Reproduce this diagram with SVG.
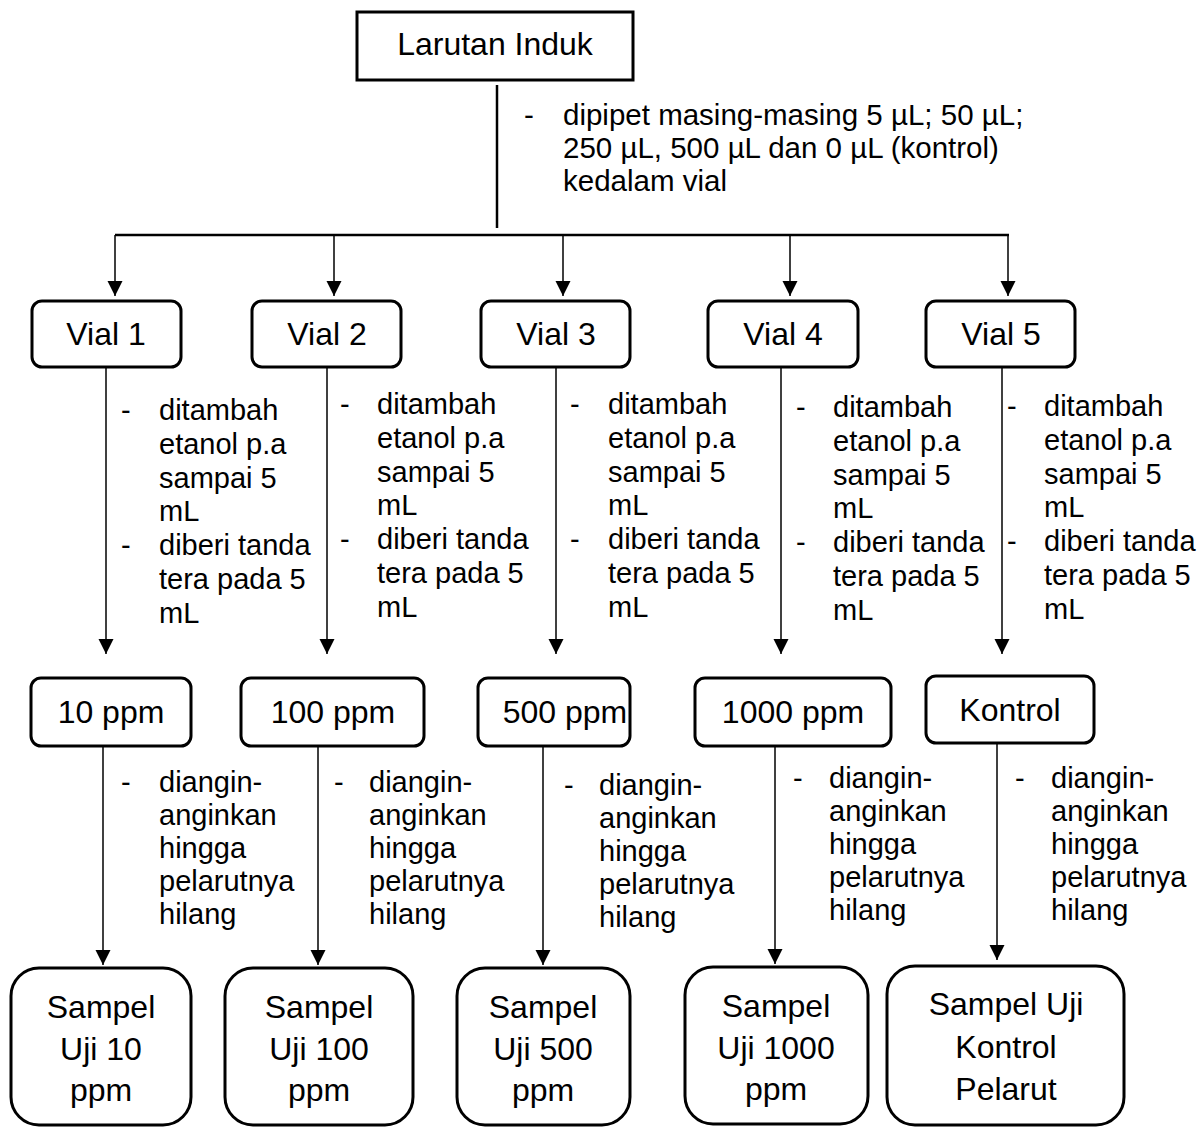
<svg xmlns="http://www.w3.org/2000/svg" width="1201" height="1129" viewBox="0 0 1201 1129">
<style>
.box{fill:#fff;stroke:#000;stroke-width:3}
.lbl{font-family:"Liberation Sans",Arial,sans-serif;font-size:32px;fill:#000;text-anchor:middle}
.ann{font-family:"Liberation Sans",Arial,sans-serif;font-size:29px;fill:#000}
.top{font-size:29.5px}
.con{fill:none;stroke:#000;stroke-width:1.5}
.main{fill:none;stroke:#000;stroke-width:2.5}
</style>
<defs>
<marker id="arr" markerUnits="userSpaceOnUse" markerWidth="16" markerHeight="16" refX="15" refY="7.5" orient="auto">
<path d="M0,0 L15,7.5 L0,15 z" fill="#000"/>
</marker>
</defs>
<rect width="1201" height="1129" fill="#fff"/>

<g id="connectors">
<path class="main" d="M497,85 V228"/>
<path class="main" d="M115,235 H1009"/>
<path class="con" d="M115,235 V296" marker-end="url(#arr)"/>
<path class="con" d="M334,235 V296" marker-end="url(#arr)"/>
<path class="con" d="M563,235 V296" marker-end="url(#arr)"/>
<path class="con" d="M790,235 V296" marker-end="url(#arr)"/>
<path class="con" d="M1008,235 V296" marker-end="url(#arr)"/>
<path class="con" d="M106,368 V654" marker-end="url(#arr)"/>
<path class="con" d="M327,368 V654" marker-end="url(#arr)"/>
<path class="con" d="M556,368 V654" marker-end="url(#arr)"/>
<path class="con" d="M781,368 V654" marker-end="url(#arr)"/>
<path class="con" d="M1002,368 V654" marker-end="url(#arr)"/>
<path class="con" d="M103,747 V965" marker-end="url(#arr)"/>
<path class="con" d="M318,747 V965" marker-end="url(#arr)"/>
<path class="con" d="M543,747 V965" marker-end="url(#arr)"/>
<path class="con" d="M775,747 V964" marker-end="url(#arr)"/>
<path class="con" d="M997,744 V960" marker-end="url(#arr)"/>
</g>

<g id="annotations">
<g class="ann top">
<text x="524" y="125">-</text>
<text x="563" y="125">dipipet masing-masing 5 µL; 50 µL;</text>
<text x="563" y="158">250 µL, 500 µL dan 0 µL (kontrol)</text>
<text x="563" y="191">kedalam vial</text>
</g>
<g class="ann">
<text x="121" y="420">-</text>
<text x="159" y="420">ditambah</text>
<text x="159" y="453.8">etanol p.a</text>
<text x="159" y="487.6">sampai 5</text>
<text x="159" y="521.4">mL</text>
<text x="121" y="555.2">-</text>
<text x="159" y="555.2">diberi tanda</text>
<text x="159" y="589">tera pada 5</text>
<text x="159" y="622.8">mL</text>
</g>
<g class="ann">
<text x="340" y="414">-</text>
<text x="377" y="414">ditambah</text>
<text x="377" y="447.8">etanol p.a</text>
<text x="377" y="481.6">sampai 5</text>
<text x="377" y="515.4">mL</text>
<text x="340" y="549.2">-</text>
<text x="377" y="549.2">diberi tanda</text>
<text x="377" y="583">tera pada 5</text>
<text x="377" y="616.8">mL</text>
</g>
<g class="ann">
<text x="570" y="414">-</text>
<text x="608" y="414">ditambah</text>
<text x="608" y="447.8">etanol p.a</text>
<text x="608" y="481.6">sampai 5</text>
<text x="608" y="515.4">mL</text>
<text x="570" y="549.2">-</text>
<text x="608" y="549.2">diberi tanda</text>
<text x="608" y="583">tera pada 5</text>
<text x="608" y="616.8">mL</text>
</g>
<g class="ann">
<text x="796" y="417">-</text>
<text x="833" y="417">ditambah</text>
<text x="833" y="450.8">etanol p.a</text>
<text x="833" y="484.6">sampai 5</text>
<text x="833" y="518.4">mL</text>
<text x="796" y="552.2">-</text>
<text x="833" y="552.2">diberi tanda</text>
<text x="833" y="586">tera pada 5</text>
<text x="833" y="619.8">mL</text>
</g>
<g class="ann">
<text x="1007" y="416">-</text>
<text x="1044" y="416">ditambah</text>
<text x="1044" y="449.8">etanol p.a</text>
<text x="1044" y="483.6">sampai 5</text>
<text x="1044" y="517.4">mL</text>
<text x="1007" y="551.2">-</text>
<text x="1044" y="551.2">diberi tanda</text>
<text x="1044" y="585">tera pada 5</text>
<text x="1044" y="618.8">mL</text>
</g>
<g class="ann">
<text x="121" y="792">-</text>
<text x="159" y="792">diangin-</text>
<text x="159" y="825">anginkan</text>
<text x="159" y="858">hingga</text>
<text x="159" y="891">pelarutnya</text>
<text x="159" y="924">hilang</text>
</g>
<g class="ann">
<text x="334" y="792">-</text>
<text x="369" y="792">diangin-</text>
<text x="369" y="825">anginkan</text>
<text x="369" y="858">hingga</text>
<text x="369" y="891">pelarutnya</text>
<text x="369" y="924">hilang</text>
</g>
<g class="ann">
<text x="564" y="795">-</text>
<text x="599" y="795">diangin-</text>
<text x="599" y="828">anginkan</text>
<text x="599" y="861">hingga</text>
<text x="599" y="894">pelarutnya</text>
<text x="599" y="927">hilang</text>
</g>
<g class="ann">
<text x="793" y="788">-</text>
<text x="829" y="788">diangin-</text>
<text x="829" y="821">anginkan</text>
<text x="829" y="854">hingga</text>
<text x="829" y="887">pelarutnya</text>
<text x="829" y="920">hilang</text>
</g>
<g class="ann">
<text x="1015" y="788">-</text>
<text x="1051" y="788">diangin-</text>
<text x="1051" y="821">anginkan</text>
<text x="1051" y="854">hingga</text>
<text x="1051" y="887">pelarutnya</text>
<text x="1051" y="920">hilang</text>
</g>
</g>

<g id="larutan-induk">
<rect class="box" x="357" y="12" width="276" height="68"/>
<text class="lbl" x="495" y="55">Larutan Induk</text>
</g>

<g id="vial-1"><rect class="box" x="32" y="301" width="149" height="66" rx="10"/><text class="lbl" x="106" y="345">Vial 1</text></g>
<g id="vial-2"><rect class="box" x="252" y="301" width="149" height="66" rx="10"/><text class="lbl" x="327" y="345">Vial 2</text></g>
<g id="vial-3"><rect class="box" x="481" y="301" width="149" height="66" rx="10"/><text class="lbl" x="556" y="345">Vial 3</text></g>
<g id="vial-4"><rect class="box" x="708" y="301" width="150" height="66" rx="10"/><text class="lbl" x="783" y="345">Vial 4</text></g>
<g id="vial-5"><rect class="box" x="926" y="301" width="149" height="66" rx="10"/><text class="lbl" x="1001" y="345">Vial 5</text></g>

<g id="ppm-10"><rect class="box" x="31" y="678" width="160" height="68" rx="10"/><text class="lbl" x="111" y="723">10 ppm</text></g>
<g id="ppm-100"><rect class="box" x="241" y="678" width="183" height="68" rx="10"/><text class="lbl" x="333" y="723">100 ppm</text></g>
<g id="ppm-500"><rect class="box" x="478" y="678" width="152" height="68" rx="10"/><text class="lbl" x="565" y="723">500 ppm</text></g>
<g id="ppm-1000"><rect class="box" x="695" y="678" width="196" height="68" rx="10"/><text class="lbl" x="793" y="723">1000 ppm</text></g>
<g id="kontrol"><rect class="box" x="926" y="676" width="168" height="67" rx="10"/><text class="lbl" x="1010" y="721">Kontrol</text></g>

<g id="sampel-10"><rect class="box" x="11" y="968" width="180" height="157" rx="28"/>
<text class="lbl" x="101" y="1018">Sampel</text><text class="lbl" x="101" y="1060">Uji 10</text><text class="lbl" x="101" y="1101">ppm</text></g>
<g id="sampel-100"><rect class="box" x="225" y="968" width="188" height="157" rx="28"/>
<text class="lbl" x="319" y="1018">Sampel</text><text class="lbl" x="319" y="1060">Uji 100</text><text class="lbl" x="319" y="1101">ppm</text></g>
<g id="sampel-500"><rect class="box" x="457" y="968" width="173" height="157" rx="28"/>
<text class="lbl" x="543" y="1018">Sampel</text><text class="lbl" x="543" y="1060">Uji 500</text><text class="lbl" x="543" y="1101">ppm</text></g>
<g id="sampel-1000"><rect class="box" x="685" y="967" width="183" height="157" rx="28"/>
<text class="lbl" x="776" y="1017">Sampel</text><text class="lbl" x="776" y="1059">Uji 1000</text><text class="lbl" x="776" y="1100">ppm</text></g>
<g id="sampel-kontrol"><rect class="box" x="887" y="966" width="237" height="159" rx="28"/>
<text class="lbl" x="1006" y="1015">Sampel Uji</text><text class="lbl" x="1006" y="1058">Kontrol</text><text class="lbl" x="1006" y="1100">Pelarut</text></g>
</svg>
